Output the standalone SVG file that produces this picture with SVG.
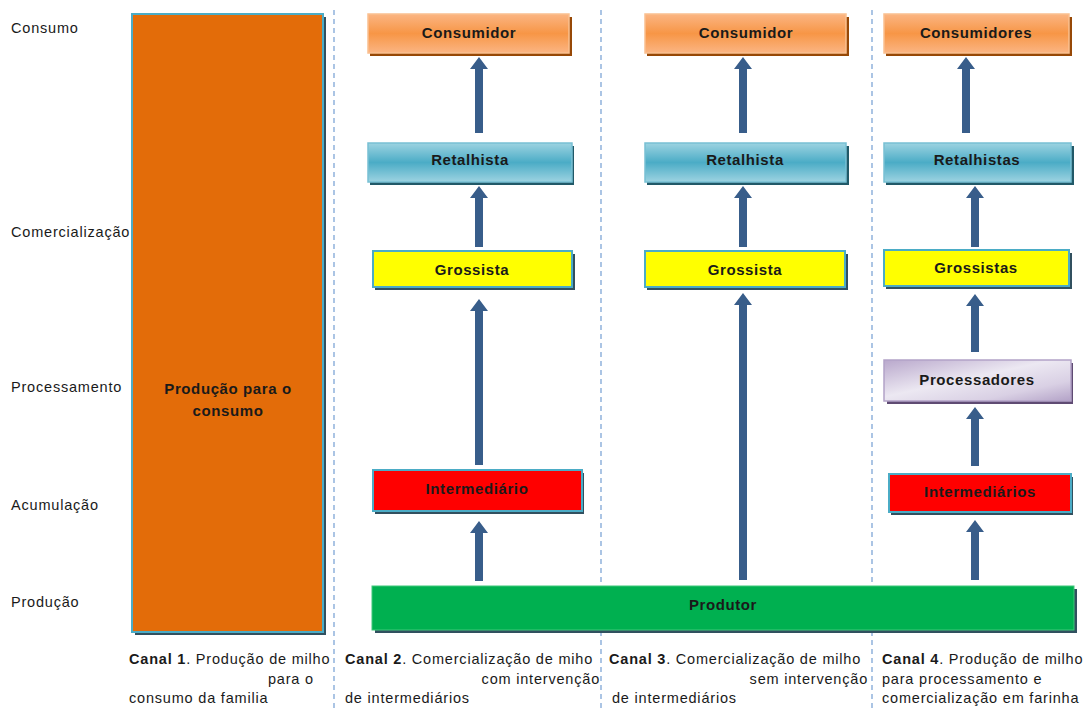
<svg xmlns="http://www.w3.org/2000/svg" width="1085" height="709" viewBox="0 0 1085 709">
<defs>
<linearGradient id="gOr" x1="0" y1="0" x2="0" y2="1"><stop offset="0" stop-color="#fbb583"/><stop offset="0.5" stop-color="#f79646"/><stop offset="1" stop-color="#fbb583"/></linearGradient>
<linearGradient id="gBl" x1="0" y1="0" x2="0" y2="1"><stop offset="0" stop-color="#9dd3e1"/><stop offset="0.5" stop-color="#4bacc6"/><stop offset="1" stop-color="#9dd3e1"/></linearGradient>
<linearGradient id="gPu" x1="0" y1="0" x2="1" y2="1"><stop offset="0" stop-color="#b9a8cc"/><stop offset="0.45" stop-color="#ece8f2"/><stop offset="0.75" stop-color="#d9d0e4"/><stop offset="1" stop-color="#b3a2c7"/></linearGradient>
</defs>
<style>
.lab{font-family:"Liberation Sans",Arial,sans-serif;font-size:14.5px;letter-spacing:0.8px;fill:#1a1a1a}
.bt{font-family:"Liberation Sans",Arial,sans-serif;font-size:15px;letter-spacing:0.6px;font-weight:bold;fill:#1a1a1a;text-anchor:middle}
.cap{font-family:"Liberation Sans",Arial,sans-serif;font-size:14.5px;letter-spacing:0.8px;fill:#1a1a1a}
.b{font-weight:bold}
.sep{stroke:#7fa6d6;stroke-width:1.3;stroke-dasharray:5 4;fill:none}
.arr{fill:#385d8a}
.sh{fill:#31505f}
</style>
<rect width="1085" height="709" fill="#ffffff"/>
<g id="separators">
<line class="sep" x1="334" y1="10" x2="334" y2="709"/>
<line class="sep" x1="601" y1="10" x2="601" y2="709"/>
<line class="sep" x1="872" y1="10" x2="872" y2="709"/>
</g>
<g id="stage-labels">
<text class="lab" x="11" y="33">Consumo</text>
<text class="lab" x="11" y="237">Comercialização</text>
<text class="lab" x="11" y="392">Processamento</text>
<text class="lab" x="11" y="510">Acumulação</text>
<text class="lab" x="11" y="607">Produção</text>
</g>
<g id="canal1-producao">
<rect x="135" y="17" width="191" height="618" class="sh"/>
<rect x="132" y="14" width="191" height="618" fill="#e36c09" stroke="#4bacc6" stroke-width="2"/>
<text class="bt" x="228" y="394">Produção para o</text>
<text class="bt" x="228" y="416">consumo</text>
</g>
<g id="connectors">
<polygon class="arr" points="479,57 488,69 483,69 483,133 475,133 475,69 470,69"/>
<polygon class="arr" points="479,186 488,198 483,198 483,247 475,247 475,198 470,198"/>
<polygon class="arr" points="479,299 488,311 483,311 483,465 475,465 475,311 470,311"/>
<polygon class="arr" points="479,521 488,533 483,533 483,581 475,581 475,533 470,533"/>
<polygon class="arr" points="743,57 752,69 747,69 747,133 739,133 739,69 734,69"/>
<polygon class="arr" points="743,186 752,198 747,198 747,247 739,247 739,198 734,198"/>
<polygon class="arr" points="743,293 752,305 747,305 747,580 739,580 739,305 734,305"/>
<polygon class="arr" points="966,57 975,69 970,69 970,133 962,133 962,69 957,69"/>
<polygon class="arr" points="975,186 984,198 979,198 979,247 971,247 971,198 966,198"/>
<polygon class="arr" points="975,294 984,306 979,306 979,352 971,352 971,306 966,306"/>
<polygon class="arr" points="975,407 984,419 979,419 979,466 971,466 971,419 966,419"/>
<polygon class="arr" points="975,520 984,532 979,532 979,580 971,580 971,532 966,532"/>
</g>
<g id="c2-consumidor">
<rect x="370" y="17" width="202" height="39" fill="#974806"/>
<rect x="368" y="14" width="201" height="39" fill="url(#gOr)" stroke="#fac090" stroke-width="1.5"/>
<text class="bt" x="469" y="38">Consumidor</text>
</g>
<g id="c2-retalhista">
<rect x="370" y="146" width="204" height="39" fill="#215968"/>
<rect x="368" y="143" width="204" height="39" fill="url(#gBl)" stroke="#78c0d4" stroke-width="1.5"/>
<text class="bt" x="470" y="165">Retalhista</text>
</g>
<g id="c2-grossista">
<rect x="375" y="254" width="200" height="36" class="sh"/>
<rect x="373" y="251" width="199" height="36" fill="#ffff00" stroke="#4bacc6" stroke-width="2"/>
<text class="bt" x="472" y="275">Grossista</text>
</g>
<g id="c2-intermediario">
<rect x="375" y="473" width="209" height="41" class="sh"/>
<rect x="373" y="470" width="209" height="41" fill="#ff0000" stroke="#4bacc6" stroke-width="2"/>
<text class="bt" x="477" y="494">Intermediário</text>
</g>
<g id="c3-consumidor">
<rect x="647" y="17" width="202" height="39" fill="#974806"/>
<rect x="645" y="14" width="201" height="39" fill="url(#gOr)" stroke="#fac090" stroke-width="1.5"/>
<text class="bt" x="746" y="38">Consumidor</text>
</g>
<g id="c3-retalhista">
<rect x="647" y="146" width="202" height="39" fill="#215968"/>
<rect x="645" y="143" width="201" height="39" fill="url(#gBl)" stroke="#78c0d4" stroke-width="1.5"/>
<text class="bt" x="745" y="165">Retalhista</text>
</g>
<g id="c3-grossista">
<rect x="647" y="254" width="201" height="36" class="sh"/>
<rect x="645" y="251" width="200" height="36" fill="#ffff00" stroke="#4bacc6" stroke-width="2"/>
<text class="bt" x="745" y="275">Grossista</text>
</g>
<g id="c4-consumidores">
<rect x="886" y="17" width="186" height="39" fill="#974806"/>
<rect x="884" y="14" width="185" height="39" fill="url(#gOr)" stroke="#fac090" stroke-width="1.5"/>
<text class="bt" x="976" y="38">Consumidores</text>
</g>
<g id="c4-retalhistas">
<rect x="886" y="146" width="188" height="39" fill="#215968"/>
<rect x="884" y="143" width="187" height="39" fill="url(#gBl)" stroke="#78c0d4" stroke-width="1.5"/>
<text class="bt" x="977" y="165">Retalhistas</text>
</g>
<g id="c4-grossistas">
<rect x="886" y="253" width="186" height="36" class="sh"/>
<rect x="884" y="250" width="185" height="36" fill="#ffff00" stroke="#4bacc6" stroke-width="2"/>
<text class="bt" x="976" y="273">Grossistas</text>
</g>
<g id="c4-processadores">
<rect x="887" y="363" width="186" height="41" fill="#5f4b73"/>
<rect x="884" y="360" width="187" height="41" fill="url(#gPu)" stroke="#b3a2c7" stroke-width="1.5"/>
<text class="bt" x="977" y="385">Processadores</text>
</g>
<g id="c4-intermediarios">
<rect x="891" y="477" width="182" height="38" class="sh"/>
<rect x="889" y="474" width="182" height="38" fill="#ff0000" stroke="#4bacc6" stroke-width="2"/>
<text class="bt" x="980" y="497">Intermediários</text>
</g>
<g id="produtor">
<rect x="375" y="589" width="702" height="44" class="sh"/>
<rect x="372" y="586" width="702" height="44" fill="#00b050" stroke="#3fc87a" stroke-width="1"/>
<text class="bt" x="723" y="610">Produtor</text>
</g>
<g id="captions">
<text class="cap" x="129" y="664"><tspan class="b">Canal 1</tspan>. Produção  de milho</text>
<text class="cap" x="268" y="684">para o</text>
<text class="cap" x="129" y="703">consumo da familia</text>
<text class="cap" x="345" y="664"><tspan class="b">Canal 2</tspan>. Comercialização de miho</text>
<text class="cap" x="600" y="684" text-anchor="end">com intervenção</text>
<text class="cap" x="345" y="703">de intermediários</text>
<text class="cap" x="609" y="664"><tspan class="b">Canal 3</tspan>. Comercialização de milho</text>
<text class="cap" x="868" y="684" text-anchor="end">sem intervenção</text>
<text class="cap" x="612" y="703">de intermediários</text>
<text class="cap" x="882" y="664"><tspan class="b">Canal 4</tspan>. Produção de milho</text>
<text class="cap" x="882" y="684">para processamento e</text>
<text class="cap" x="882" y="703">comercialização em farinha</text>
</g>
</svg>
